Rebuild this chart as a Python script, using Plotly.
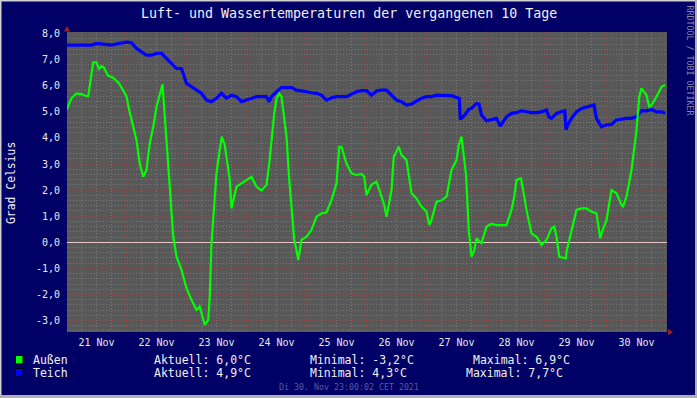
import pandas as pd
import plotly.graph_objects as go

# ---------------- data ----------------
START = pd.Timestamp("2021-11-21 00:00")

aussen_hours = [0, 2, 4, 6, 8, 8.7, 9.3, 10.7, 12, 13, 14, 15, 16.5, 18.7, 21, 23, 24, 25,
                26, 28, 29.3, 30.7, 32, 33.3, 34.7, 36, 38.4, 40, 41.3, 42.7, 44, 46, 48,
                50, 52, 53.3, 54, 55.3, 56.7, 57.3, 58, 59.3, 60, 61.3, 62.1, 63.3, 64,
                65.3, 66, 67.3, 68, 70, 72, 74, 75.3, 76, 78, 80, 81.1, 82, 82.5, 83.1,
                84, 85.1, 86, 87.1, 88, 89.1, 90, 91.1, 92, 92.7, 94, 96, 98, 100, 102,
                104, 106, 108, 109.1, 110, 112, 114, 116, 118, 119.1, 120, 122, 124, 126,
                127.1, 128, 130, 130.9, 132, 132.9, 134, 136, 138, 140, 142, 144, 145.1,
                146, 148, 150, 152, 154, 156, 156.9, 158, 159.8, 160.9, 162, 163.1, 164,
                166, 167.1, 168, 170, 172, 174, 176, 178, 179.1, 180, 181.8, 183.1, 184,
                186, 188, 190, 192, 194, 195.1, 196, 197.1, 198, 199.8, 200, 202, 204,
                206, 208, 210, 212, 213.5, 214, 216, 218, 220, 222, 222.6, 224, 226, 228,
                229.1, 230, 232, 233.1, 234, 236, 238, 239.5]
aussen_vals = [5.07, 5.52, 5.71, 5.68, 5.6, 5.6, 6.0, 6.9, 6.9, 6.65, 6.75, 6.7, 6.4, 6.3,
               6.1, 5.8, 5.6, 5.1, 4.68, 3.92, 3.02, 2.51, 2.77, 3.79, 4.43, 5.2, 6.06,
               4.05, 2.13, 0.21, -0.55, -1.06, -1.76, -2.21, -2.59, -2.47, -2.72, -3.17,
               -2.98, -2.09, -0.04, 1.75, 2.64, 3.54, 4.05, 3.73, 3.28, 2.39, 1.3, 1.88,
               2.13, 2.26, 2.39, 2.51, 2.26, 2.13, 1.98, 2.2, 3.02, 3.92, 4.43, 4.94,
               5.51, 5.7, 5.58, 4.81, 4.05, 2.39, 1.24, 0.09, -0.3, -0.68, 0.09, 0.21,
               0.47, 0.98, 1.11, 1.14, 1.62, 2.26, 3.66, 3.66, 3.02, 2.64, 2.58, 2.62,
               2.51, 1.81, 2.2, 2.32, 1.75, 1.43, 0.98, 2.0, 3.28, 3.47, 3.66, 3.34, 3.15,
               1.88, 1.68, 1.37, 1.17, 0.66, 0.85, 1.56, 1.6, 1.75, 2.77, 3.15, 3.73,
               4.05, 2.6, 0.47, -0.55, -0.3, 0.15, -0.04, 0.34, 0.6, 0.7, 0.66, 0.66,
               0.66, 1.24, 1.75, 2.39, 2.45, 1.75, 1.24, 0.34, 0.21, -0.1, 0.09, 0.53,
               0.6, 0.21, -0.55, -0.58, -0.62, -0.36, 0.47, 1.24, 1.3, 1.3, 1.17, 1.11,
               0.15, 0.34, 0.85, 2.0, 1.88, 1.43, 1.37, 1.75, 2.77, 4.3, 5.58, 5.9, 5.64,
               5.19, 5.26, 5.58, 5.96, 6.03]

teich_hours = [0, 2, 4, 6, 8, 10, 12, 14, 16, 18, 20, 22, 24, 26, 28, 30, 32, 34, 36, 38,
               40, 42, 44, 46, 47, 48, 50, 52, 54, 56, 58, 60, 62, 64, 66, 68, 70, 72,
               74, 76, 78, 80, 81.1, 82, 84, 86, 88, 90, 92, 94, 96, 98, 100, 102, 104,
               106, 108, 110, 112, 114, 116, 118, 120, 122, 124, 126, 128, 130, 132, 134,
               136, 138, 140, 142, 144, 146, 148, 150, 152, 154, 156, 157.1, 157.5, 158,
               159.5, 161, 162, 164, 165, 166, 168, 170, 172, 173.5, 174.5, 176, 178,
               180, 182, 184, 186, 188, 190, 192, 193, 194, 196, 198, 199.3, 199.8,
               200.5, 202, 204, 206, 208, 210, 211, 212, 214, 216, 218, 220, 222, 224,
               226, 228, 230, 232, 234, 236, 238, 239.5]
teich_vals = [7.56, 7.56, 7.53, 7.53, 7.56, 7.56, 7.62, 7.6, 7.6, 7.56, 7.6, 7.62, 7.67,
              7.65, 7.43, 7.3, 7.17, 7.17, 7.24, 7.24, 7.05, 6.85, 6.66, 6.66, 6.4, 6.09,
              5.96, 5.83, 5.71, 5.45, 5.39, 5.52, 5.71, 5.52, 5.64, 5.58, 5.39, 5.45,
              5.52, 5.58, 5.58, 5.58, 5.39, 5.58, 5.77, 5.93, 5.93, 5.93, 5.83, 5.81,
              5.77, 5.73, 5.71, 5.64, 5.45, 5.54, 5.58, 5.58, 5.58, 5.68, 5.77, 5.81,
              5.81, 5.64, 5.8, 5.83, 5.83, 5.64, 5.45, 5.39, 5.26, 5.3, 5.42, 5.52, 5.58,
              5.58, 5.64, 5.64, 5.64, 5.62, 5.55, 5.52, 4.75, 4.75, 4.9, 5.1, 5.13, 5.32,
              5.3, 4.88, 4.66, 4.69, 4.75, 4.45, 4.6, 4.81, 4.94, 4.97, 5.04, 5.0, 4.97,
              4.97, 5.0, 5.07, 4.8, 4.75, 4.94, 5.0, 5.04, 4.32, 4.5, 4.75, 5.0, 5.13,
              5.19, 5.26, 5.26, 4.75, 4.43, 4.5, 4.52, 4.69, 4.73, 4.75, 4.75, 4.81, 5.04,
              5.04, 5.09, 5.0, 5.0, 4.94]

y_tick_values = [-3, -2, -1, 0, 1, 2, 3, 4, 5, 6, 7, 8]
series_names = ["Außen", "Teich"]
series_colors = ["#00ff00", "#0000ff"]
title_text = "Luft- und Wassertemperaturen der vergangenen 10 Tage"
y_title = "Grad Celsius"
stamp_text = "Di 30. Nov 23:00:02 CET 2021"
watermark = "RRDTOOL / TOBI OETIKER"

# ---------------- layout geometry ----------------
W, H = 697, 398
PL, PR, PT, PB = 67, 667, 32, 332   # plot area in pixels
PW, PH = PR - PL, PB - PT
NAVY = "#000066"
FONT = "DejaVu Sans Mono"


def px(x):
    return (x - PL) / PW


def py(y):
    return (PB - y) / PH


def fmt(v):
    return f"{v:.1f}".replace(".", ",")


def to_time(hours):
    return [START + pd.Timedelta(hours=h) for h in hours]


fig = go.Figure()
fig.add_trace(go.Scatter(x=to_time(teich_hours), y=teich_vals, mode="lines",
                         line=dict(color=series_colors[1], width=3.2),
                         name=series_names[1], showlegend=False))
fig.add_trace(go.Scatter(x=to_time(aussen_hours), y=aussen_vals, mode="lines",
                         line=dict(color=series_colors[0], width=2.2),
                         name=series_names[0], showlegend=False))

x0 = START + pd.Timedelta(hours=0.2)
x1 = START + pd.Timedelta(hours=240.2)

GRID_MAJOR = "#9a4040"
GRID_MINOR = "#787878"

fig.update_layout(
    width=W, height=H,
    margin=dict(l=PL, r=W - PR, t=PT, b=H - PB, pad=0),
    paper_bgcolor=NAVY, plot_bgcolor="#585858",
    font=dict(family=FONT, color="#e8e8e8", size=10),
    showlegend=False,
    xaxis=dict(
        type="date", range=[x0, x1], tick0="2021-11-21", dtick=86400000,
        ticklabelmode="period", tickformat="%d %b", showline=False,
        gridcolor=GRID_MAJOR, griddash="1px,2px", gridwidth=1,
        ticks="", ticklabelstandoff=3, zeroline=False,
        tickfont=dict(family=FONT, size=10, color="#e8e8e8"),
        minor=dict(dtick=6 * 3600 * 1000, tick0="2021-11-21", showgrid=True,
                   gridcolor=GRID_MINOR, griddash="1px,2px", gridwidth=1),
    ),
    yaxis=dict(
        range=[-3.44, 8.06], tickmode="array", tickvals=y_tick_values,
        ticktext=[fmt(v) for v in y_tick_values],
        gridcolor=GRID_MAJOR, griddash="1px,2px", gridwidth=1,
        zeroline=True, zerolinecolor="#e6c8c8", zerolinewidth=1,
        ticks="", ticklabelstandoff=6, showline=False,
        tickfont=dict(family=FONT, size=10, color="#e8e8e8"),
        minor=dict(dtick=0.2, tick0=0, showgrid=True,
                   gridcolor=GRID_MINOR, griddash="1px,2px", gridwidth=1),
    ),
)

ann = []
ann.append(dict(text=title_text, x=px(348.5), y=py(14), xref="paper", yref="paper",
                xanchor="center", yanchor="middle", showarrow=False,
                font=dict(family=FONT, size=13.3, color="#f0f0f0")))
ann.append(dict(text=y_title, x=px(11), y=py(183), xref="paper", yref="paper",
                xanchor="center", yanchor="middle", showarrow=False, textangle=-90,
                font=dict(family=FONT, size=11.4, color="#f0f0f0")))
ann.append(dict(text=watermark, x=px(689.5), y=py(60), xref="paper", yref="paper",
                xanchor="center", yanchor="middle", showarrow=False, textangle=90,
                font=dict(family=FONT, size=8.3, color="#8888aa")))
ann.append(dict(text=stamp_text, x=px(348.5), y=py(387), xref="paper", yref="paper",
                xanchor="center", yanchor="middle", showarrow=False,
                font=dict(family=FONT, size=8.3, color="#5a5aa0")))

rows = [(aussen_vals, 359.7, 471), (teich_vals, 372.7, 463.5)]
shapes = []
for i, (vals, yc, max_x) in enumerate(rows):
    shapes.append(dict(type="rect", xref="paper", yref="paper",
                       x0=px(15.5), x1=px(23), y0=py(yc - 4.2), y1=py(yc + 4.2),
                       fillcolor=series_colors[i], line=dict(color="#000000", width=1)))
    lf = dict(family=FONT, size=11.5, color="#f0f0f0")
    ann.append(dict(text=series_names[i], x=px(31), y=py(yc), xref="paper", yref="paper",
                    xanchor="left", yanchor="middle", showarrow=False, font=lf))
    ann.append(dict(text=f"Aktuell: {fmt(vals[-1])}°C", x=px(152), y=py(yc),
                    xref="paper", yref="paper", xanchor="left", yanchor="middle",
                    showarrow=False, font=lf))
    ann.append(dict(text=f"Minimal: {fmt(min(vals))}°C", x=px(307.5), y=py(yc),
                    xref="paper", yref="paper", xanchor="left", yanchor="middle",
                    showarrow=False, font=lf))
    ann.append(dict(text=f"Maximal: {fmt(max(vals))}°C", x=px(max_x), y=py(yc),
                    xref="paper", yref="paper", xanchor="left", yanchor="middle",
                    showarrow=False, font=lf))

shapes.append(dict(type="path", xref="paper", yref="paper",
                   path=f"M {px(64)} {py(31.5)} L {px(70)} {py(31.5)} L {px(67)} {py(26)} Z",
                   fillcolor="#a02020", line=dict(width=0)))
shapes.append(dict(type="path", xref="paper", yref="paper",
                   path=f"M {px(668)} {py(329)} L {px(668)} {py(335)} L {px(673)} {py(332)} Z",
                   fillcolor="#a02020", line=dict(width=0)))
shapes.append(dict(type="line", xref="paper", yref="paper", x0=px(0), x1=px(W),
                   y0=py(0.75), y1=py(0.75), line=dict(color="#d0d0d0", width=1.5)))
shapes.append(dict(type="line", xref="paper", yref="paper", x0=px(0.75), x1=px(0.75),
                   y0=py(0), y1=py(H), line=dict(color="#d0d0d0", width=1.5)))
shapes.append(dict(type="line", xref="paper", yref="paper", x0=px(0), x1=px(W),
                   y0=py(H - 1.5), y1=py(H - 1.5), line=dict(color="#b0b0b0", width=3)))
shapes.append(dict(type="line", xref="paper", yref="paper", x0=px(W - 1), x1=px(W - 1),
                   y0=py(0), y1=py(H), line=dict(color="#b0b0b0", width=2)))

fig.update_layout(annotations=ann, shapes=shapes)
fig.write_html(
    "out.html",
    config={"displayModeBar": False},
    post_script="document.body.style.margin='0';document.body.style.padding='0';"
                "document.body.style.overflow='hidden';",
)
